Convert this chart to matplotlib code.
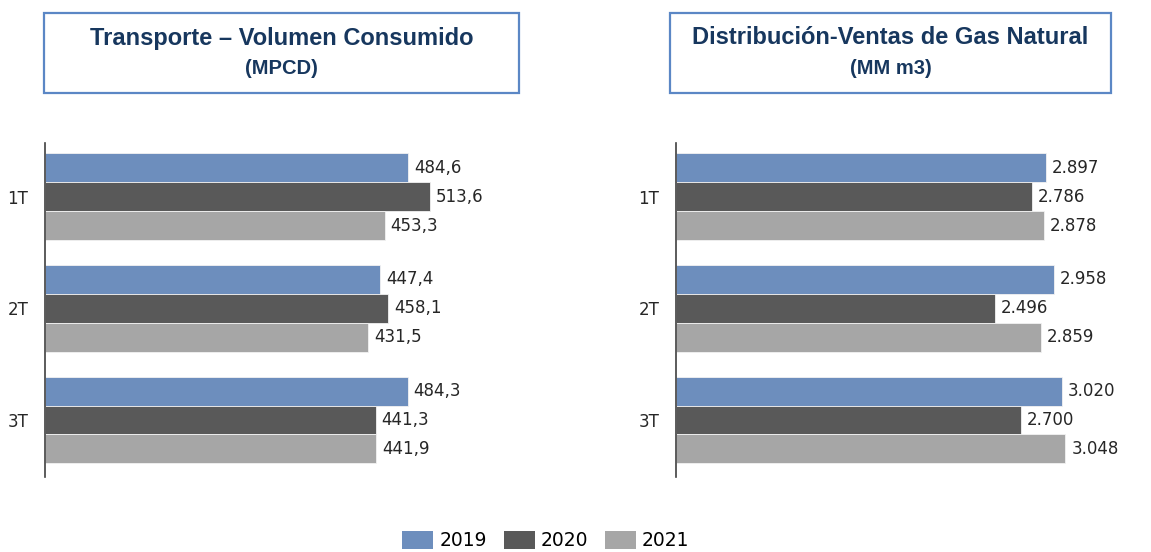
import numpy as np
import matplotlib.pyplot as plt
from matplotlib.patches import Rectangle, Patch

# data
quarters   = ['1T', '2T', '3T']
years      = ['2019', '2020', '2021']
transporte = {'2019': [484.6, 447.4, 484.3],
              '2020': [513.6, 458.1, 441.3],
              '2021': [453.3, 431.5, 441.9]}
ventas     = {'2019': [2897, 2958, 3020],
              '2020': [2786, 2496, 2700],
              '2021': [2878, 2859, 3048]}
titles     = ['Transporte \u2013 Volumen Consumido', 'Distribuci\u00f3n-Ventas de Gas Natural']
subtitles  = ['(MPCD)', '(MM m3)']

colors     = {'2019': '#6D8EBD', '2020': '#595959', '2021': '#A6A6A6'}
W, H       = 1151, 552
fontsize   = 12

def fmt_comma(v):
    return f'{v:.1f}'.replace('.', ',')

def fmt_dot(v):
    return f'{v:,.0f}'.replace(',', '.')

def setup_panel(ax, data, xmax, fmt):
    y  = np.arange(len(quarters))
    bh = 0.259
    for i, yr in enumerate(years):
        bars = ax.barh(y + (i - 1) * bh, data[yr], height=bh, color=colors[yr],
                       edgecolor='#F2F2F2', linewidth=0.6)
        for b, v in zip(bars, data[yr]):
            ax.annotate(fmt(v), (b.get_width(), b.get_y() + b.get_height() / 2),
                        xytext=(6, 0), textcoords='offset pixels', ha='left', va='center',
                        fontsize=fontsize, color='#262626', annotation_clip=False)
    ax.set_xlim(0, xmax)
    ax.set_ylim(2.51, -0.48)
    ax.set_yticks(y)
    ax.set_yticklabels(quarters, fontsize=fontsize, color='#262626')
    ax.tick_params(axis='y', length=0, pad=12)
    ax.set_xticks([])
    for s in ['top', 'right', 'bottom']:
        ax.spines[s].set_visible(False)
    ax.spines['left'].set_color('#404040')
    ax.spines['left'].set_linewidth(1.2)

def fx(px):
    return px / W

def fy(px):
    return 1 - px / H

fig = plt.figure(figsize=(W / 100, H / 100), dpi=100)

ax1 = fig.add_axes([fx(45), fy(477), fx(600 * 0.749), (477 - 143) / H])
setup_panel(ax1, transporte, 600, fmt_comma)

ax2 = fig.add_axes([fx(676), fy(477), fx(3500 * 0.1277), (477 - 143) / H])
setup_panel(ax2, ventas, 3500, fmt_dot)

# title boxes
boxes = [(44, 519), (670, 1111)]
for (x0, x1), t, st in zip(boxes, titles, subtitles):
    fig.patches.append(Rectangle((fx(x0), fy(93)), fx(x1 - x0), (93 - 13) / H,
                                 transform=fig.transFigure, facecolor='white',
                                 edgecolor='#5B87C5', linewidth=1.6))
    xc = fx((x0 + x1) / 2)
    fig.text(xc, fy(38), t, ha='center', va='center', fontsize=17, fontweight='bold',
             family='Liberation Sans', color='#17375E')
    fig.text(xc, fy(69), st, ha='center', va='center', fontsize=14.5, fontweight='bold',
             family='Liberation Sans', color='#17375E')

# legend
handles = [Patch(facecolor=colors[yr], edgecolor='none', label=yr) for yr in years]
fig.legend(handles=handles, loc='upper center', bbox_to_anchor=(fx(546), fy(531)),
           ncol=3, frameon=False, fontsize=13.5, handlelength=1.65, handleheight=1.1,
           handletextpad=0.32, columnspacing=0.9, borderpad=0, borderaxespad=0)

plt.savefig('out.png', dpi=100)
